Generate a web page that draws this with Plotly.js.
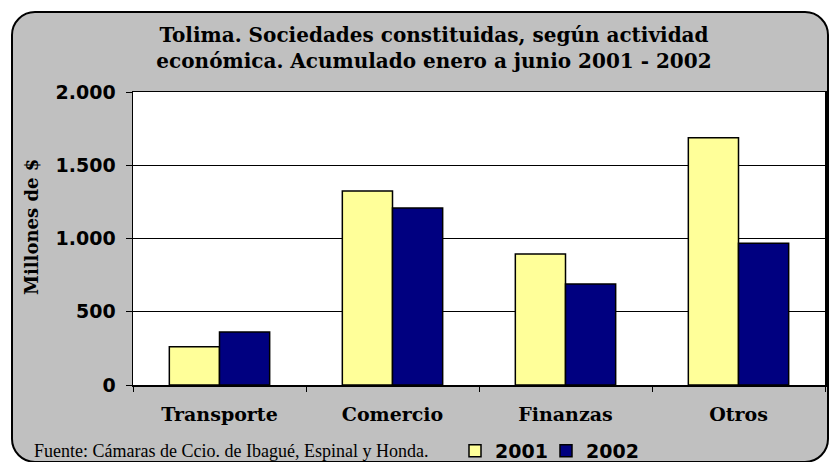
<!DOCTYPE html>
<html>
<head>
<meta charset="utf-8">
<script src="https://cdn.plot.ly/plotly-3.0.1.min.js"></script>
<style>
  html, body { margin: 0; padding: 0; background: #ffffff; }
  #frame { position: absolute; left: 11px; top: 11px; width: 814px; height: 448px;
           border: 2px solid #000; border-radius: 24px; background: #C0C0C0; }
  #chart { position: absolute; left: 0; top: 0; width: 829px; height: 462px; }
</style>
</head>
<body>
<div id="frame"></div>
<div id="chart"></div>
<script>
const categories = ["Transporte", "Comercio", "Finanzas", "Otros"];
const values2001 = [261, 1324, 894, 1688];
const values2002 = [362, 1208, 689, 967];
const yTicks = [0, 500, 1000, 1500, 2000];

const traces = [
  { type: "bar", name: "2001", x: categories, y: values2001, legend: "legend",
    marker: { color: "#FFFF99", line: { color: "#000000", width: 1.5 } } },
  { type: "bar", name: "2002", x: categories, y: values2002, legend: "legend2",
    marker: { color: "#000080", line: { color: "#000000", width: 1.5 } } }
];

const W = 829, H = 462;
const L = 133, R = 4, T = 92, B = 77;
const pw = W - L - R, ph = H - T - B;
const px = x => (x - L) / pw;
const py = y => (H - B - y) / ph;

const serifBold = { family: "DejaVu Serif, serif", color: "#000", weight: "bold" };
const sansBold = { family: "DejaVu Sans, sans-serif", color: "#000", weight: "bold" };

function legendAt(xPix) {
  return {
    orientation: "h", xref: "paper", x: px(xPix), xanchor: "left",
    yref: "container", y: 1 - 451 / H, yanchor: "middle",
    bgcolor: "rgba(0,0,0,0)", borderwidth: 0, itemwidth: 30,
    font: Object.assign({ size: 19 }, sansBold)
  };
}

const layout = {
  width: W, height: H,
  margin: { l: L, r: R, t: T, b: B, autoexpand: false },
  paper_bgcolor: "rgba(0,0,0,0)",
  plot_bgcolor: "#ffffff",
  separators: ",.",
  barmode: "group",
  bargap: 0.42,
  bargroupgap: 0,
  showlegend: true,
  title: {
    text: "Tolima. Sociedades constituidas, según actividad<br>económica. Acumulado enero a junio 2001 - 2002",
    font: Object.assign({ size: 20 }, serifBold),
    x: 434 / W, xanchor: "center", y: 1 - 42 / H, yanchor: "middle", yref: "container"
  },
  xaxis: {
    type: "category",
    showline: true, linecolor: "#000", linewidth: 1.5, mirror: true,
    ticks: "outside", tickson: "boundaries", ticklen: 5, tickcolor: "#000", tickwidth: 1,
    ticklabelstandoff: 12,
    tickfont: Object.assign({ size: 19 }, serifBold),
    fixedrange: true
  },
  yaxis: {
    range: [0, 2000], tickvals: yTicks, tickformat: ",d",
    showgrid: true, gridcolor: "#000", gridwidth: 1,
    showline: true, linecolor: "#000", linewidth: 1.5, mirror: true,
    ticks: "outside", ticklen: 6, tickcolor: "#000", tickwidth: 1,
    ticklabelstandoff: 6,
    tickfont: Object.assign({ size: 19 }, sansBold),
    zeroline: false,
    fixedrange: true
  },
  legend: legendAt(455),
  legend2: legendAt(546),
  annotations: [
    { text: "Millones de $", textangle: -90,
      xref: "paper", yref: "paper", x: px(31), y: py(227), xanchor: "center", yanchor: "middle",
      showarrow: false, font: Object.assign({ size: 18 }, serifBold) },
    { text: "Fuente: Cámaras de Ccio. de Ibagué, Espinal y Honda.",
      xref: "paper", yref: "paper", x: px(32), y: py(451), xanchor: "left", yanchor: "middle",
      showarrow: false, font: { family: "Liberation Serif, serif", size: 18, color: "#000" } }
  ]
};

Plotly.newPlot("chart", traces, layout, { displayModeBar: false, staticPlot: true });
</script>
</body>
</html>
